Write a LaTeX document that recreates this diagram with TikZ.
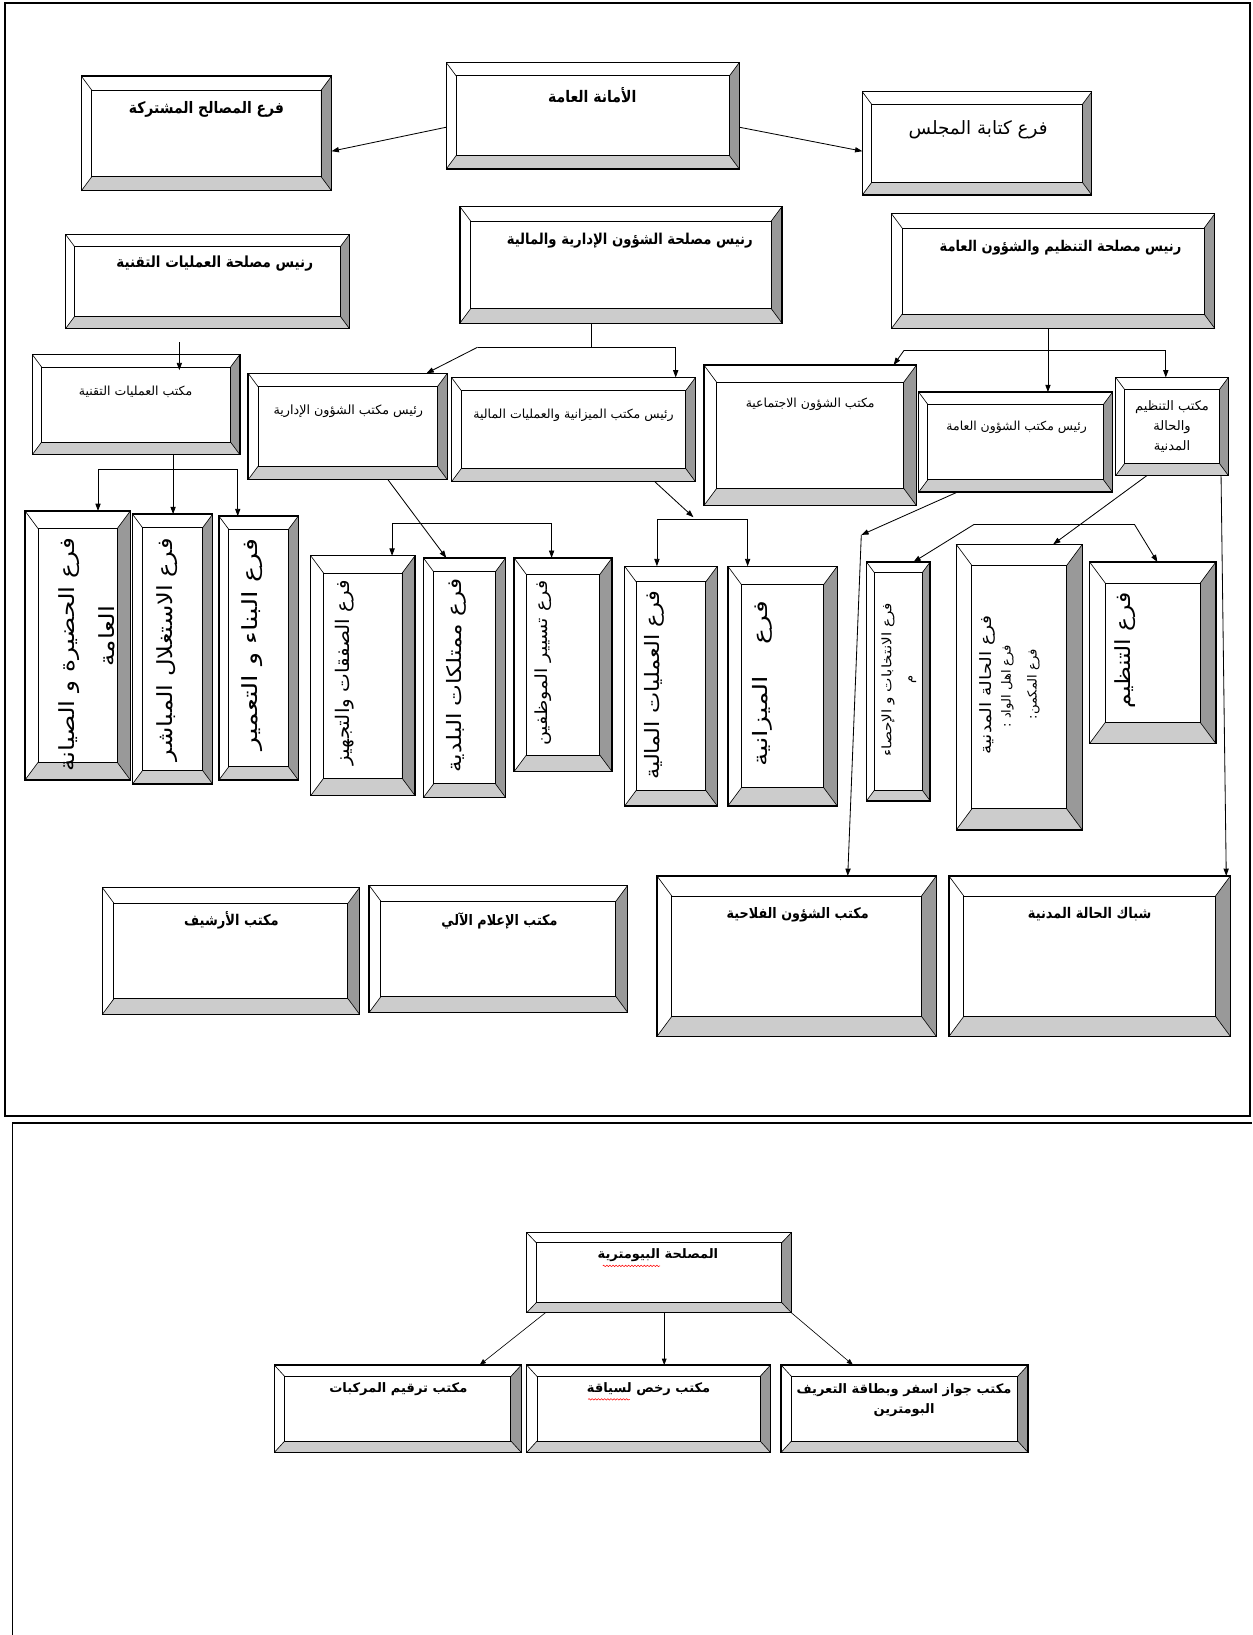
\documentclass[tikz,border=0pt]{standalone}
\usepackage{fontspec}
\newfontfamily\arabicfont[Script=Arabic]{DejaVu Sans}
\newfontfamily\arabicbold[Script=Arabic,FakeStretch=0.88]{DejaVu Sans Bold}
\TeXXeTstate=1
\usetikzlibrary{arrows.meta,calc,decorations.pathmorphing}
\newcommand{\ar}[1]{\beginR #1\endR}
\newcommand{\fs}[2]{\fontsize{#1}{#2}\selectfont}
\newcommand{\xs}[2]{\scalebox{#1}[1]{#2}}
\colorlet{bevR}{black!40}
\colorlet{bevB}{black!20}
\tikzset{
  arr/.style={-{Triangle[length=7pt,width=5pt]}, line width=0.8pt},
  arrthin/.style={-{Triangle[length=6pt,width=4.5pt]}, line width=0.6pt},
  ln/.style={line width=0.8pt},
  frame/.style={line width=1.6pt},
  txt/.style={inner sep=0pt, align=center, text=black},
  boxnode/.style={rectangle, inner sep=0pt, outer sep=0pt, draw=black, line width=1.3pt},
  innerline/.style={draw=black, line width=0.9pt},
  cornerline/.style={draw=black, line width=0.6pt},
}
\newcommand{\bboxdraw}[5]{%
  \fill[white] (#2,#3) rectangle (#4,#5);
  \fill[bevR] (#4,#3) -- (#4,#5) -- ({#4-\bx},{#5-\by}) -- ({#4-\bx},{#3+\by}) -- cycle;
  \fill[bevB] (#2,#5) -- (#4,#5) -- ({#4-\bx},{#5-\by}) -- ({#2+\bx},{#5-\by}) -- cycle;
  \draw[cornerline] (#2,#3) -- ({#2+\bx},{#3+\by}) (#4,#3) -- ({#4-\bx},{#3+\by})
        (#2,#5) -- ({#2+\bx},{#5-\by}) (#4,#5) -- ({#4-\bx},{#5-\by});
  \draw[innerline] ({#2+\bx},{#3+\by}) rectangle ({#4-\bx},{#5-\by});
  \node[boxnode, minimum width=\bw pt, minimum height=\bh pt] (#1) at ({(#2+#4)/2},{(#3+#5)/2}) {};
}
\newcommand{\bbox}[5]{%
  \pgfmathsetmacro\bw{#4-#2}%
  \pgfmathsetmacro\bh{#5-#3}%
  \pgfmathsetmacro\bx{0.125*min(\bw,\bh/1.35)}%
  \pgfmathsetmacro\by{1.35*\bx}%
  \bboxdraw{#1}{#2}{#3}{#4}{#5}}
\newcommand{\bboxxy}[7]{%
  \pgfmathsetmacro\bw{#4-#2}%
  \pgfmathsetmacro\bh{#5-#3}%
  \def\bx{#6}\def\by{#7}%
  \bboxdraw{#1}{#2}{#3}{#4}{#5}}
\begin{document}
\begin{tikzpicture}[x=1pt,y=-1pt]
\useasboundingbox (0,0) rectangle (1201,1568);
\fill[white] (0,0) rectangle (1201,1568);
% frames
\draw[frame] (5,3) rectangle (1199,1070);
\draw[frame] (12,1568) -- (12,1077) -- (1201,1077);

% ---- top row
\bbox{masalih}{78}{73}{318}{183}
\bbox{amana}{428}{60}{709}{162}
\bbox{kitaba}{827}{88}{1047}{187}
% ---- second row
\bbox{tech}{63}{225}{335}{315}
\bbox{admin}{441}{198}{750}{310}
\bbox{org}{855}{205}{1165}{315}
% ---- third row
\bbox{techoff}{31}{340}{230}{436}
\bbox{adminoff}{238}{358}{429}{460}
\bbox{budget}{433}{362}{667}{462}
\bbox{social}{675}{350}{879}{485}
\bbox{general}{881}{376}{1067}{472}
\bbox{orgoff}{1070}{362}{1178}{456}
% ---- vertical boxes
\bbox{vA}{24}{490}{125}{748}
\bbox{vB}{127}{493}{204}{752}
\bbox{vC}{210}{495}{286}{748}
\bbox{vD}{298}{533}{398}{763}
\bbox{vE}{406}{535}{485}{765}
\bbox{vF}{493}{535}{587}{740}
\bbox{vG}{599}{543}{688}{773}
\bbox{vH}{698}{543}{803}{773}
\bbox{vI}{831}{539}{892}{768}
\bbox{vJ}{917}{522}{1038}{796}
\bbox{vK}{1045}{539}{1166}{713}
% ---- fifth row
\bbox{archive}{98}{851}{345}{973}
\bbox{info}{354}{849}{602}{971}
\bbox{falahia}{630}{840}{898}{994}
\bbox{shubbak}{910}{840}{1180}{994}
% ---- lower section
\bboxxy{bio}{505}{1182}{759}{1259}{9.5}{10}
\bboxxy{veh}{263}{1309}{500}{1393}{10}{11}
\bboxxy{lic}{505}{1309}{739}{1393}{10}{11}
\bboxxy{pass}{749}{1309}{986}{1393}{10}{11}

% ---- texts
\node[txt, font=\arabicbold\fs{15.2}{19}] (masalih-t) at (198,105) {\ar{فرع المصالح المشتركة}};
\node[txt, font=\arabicbold\fs{15.3}{19}] (amana-t) at (568,91) {\ar{الأمانة العامة}};
\node[txt, font=\arabicfont\fs{17.6}{22}] (kitaba-t) at (938,124) {\ar{فرع كتابة المجلس}};
\node[txt, font=\arabicbold\fs{14.7}{18}] (tech-t) at (206,253) {\ar{رنيس مصلحة العمليات التقنية}};
\node[txt, font=\arabicbold\fs{14.4}{18}] (admin-t) at (604,231) {\ar{رنيس مصلحة الشؤون الإدارية والمالية}};
\node[txt, font=\arabicbold\fs{14.2}{18}] (org-t) at (1017,238) {\ar{رنيس مصلحة التنظيم والشؤون العامة}};
\node[txt, font=\arabicfont\fs{12}{14}] (techoff-t) at (130,376) {\ar{مكتب العمليات التقنية}};
\node[txt, font=\arabicfont\fs{12.2}{15}] (adminoff-t) at (334,394) {\ar{رئيس مكتب الشؤون الإدارية}};
\node[txt, font=\arabicfont\fs{12}{14}] (budget-t) at (550,398) {\ar{رئيس مكتب الميزانية والعمليات المالية}};
\node[txt, font=\arabicfont\fs{12}{15}] (social-t) at (777,388) {\ar{مكتب الشؤون الاجتماعية}};
\node[txt, font=\arabicfont\fs{11.9}{15}] (general-t) at (975,410) {\ar{رئيس مكتب الشؤون العامة}};
\node[txt, font=\arabicfont\fs{12.5}{19.5}] (orgoff-t) at (1124,409) {\ar{مكتب التنظيم}\\\ar{والحالة}\\\ar{المدنية}};

\node[txt, rotate=90, font=\arabicfont\fs{20}{24}] (vA-t1) at (66,628) {\xs{1.19}{\ar{فرع الحضيرة و الصيانة}}};
\node[txt, rotate=90, font=\arabicfont\fs{20}{24}] (vA-t2) at (102,610) {\xs{1.19}{\ar{العامة}}};
\node[txt, rotate=90, font=\arabicfont\fs{20}{24}] (vB-t) at (160,623) {\xs{1.16}{\ar{فرع الاستغلال المباشر}}};
\node[txt, rotate=90, font=\arabicfont\fs{20}{24}] (vC-t) at (242,618) {\xs{1.3}{\ar{فرع البناء و التعمير}}};
\node[txt, rotate=90, font=\arabicfont\fs{18}{22}] (vD-t) at (331,645) {\xs{1.06}{\ar{فرع الصفقات والتجهيز}}};
\node[txt, rotate=90, font=\arabicfont\fs{19}{23}] (vE-t) at (438,648) {\xs{1.17}{\ar{فرع ممتلكات البلدية}}};
\node[txt, rotate=90, font=\arabicfont\fs{16}{19}] (vF-t) at (521,636) {\xs{1.15}{\ar{فرع تسيير الموظفين}}};
\node[txt, rotate=90, font=\arabicfont\fs{19}{23}] (vG-t) at (628,657) {\xs{1.14}{\ar{فرع العمليات المالية}}};
\node[txt, rotate=90, font=\arabicfont\fs{19}{23}] (vH-t) at (731,656) {\xs{1.35}{\ar{فرع\hspace{22pt}الميزانية}}};
\node[txt, rotate=90, font=\arabicfont\fs{12.5}{21}] (vI-t) at (862,652) {\xs{1.17}{\ar{فرع الانتخابات و الإحصاء}}\\\ar{م}};
\node[txt, rotate=90, font=\arabicfont\fs{15}{17}] (vJ-t1) at (947,657) {\xs{1.2}{\ar{فرع الحالة المدنية}}};
\node[txt, rotate=90, font=\arabicfont\fs{12}{14}] (vJ-t2) at (966,658) {\xs{1.05}{\ar{فرع اهل الواد :}}};
\node[txt, rotate=90, font=\arabicfont\fs{12}{14}] (vJ-t3) at (991,656) {\xs{1.05}{\ar{فرع المكمن:}}};
\node[txt, rotate=90, font=\arabicfont\fs{20}{24}] (vK-t) at (1079,624) {\xs{1.13}{\ar{فرع التنظيم}}};

\node[txt, font=\arabicbold\fs{14.2}{17}] (archive-t) at (222,883) {\ar{مكتب الأرشيف}};
\node[txt, font=\arabicbold\fs{13.9}{17}] (info-t) at (479,883) {\ar{مكتب الإعلام الآلي}};
\node[txt, font=\arabicbold\fs{13.9}{17}] (falahia-t) at (765,877) {\ar{مكتب الشؤون الفلاحية}};
\node[txt, font=\arabicbold\fs{14.1}{17}] (shubbak-t) at (1045,877) {\ar{شباك الحالة المدنية}};

\node[txt, font=\arabicfont\bfseries\fs{12.5}{15}] (bio-t) at (631,1204) {\ar{المصلحة البيومترية}};
\node[txt, font=\arabicfont\bfseries\fs{12.5}{15}] (veh-t) at (382,1332) {\ar{مكتب ترقيم المركبات}};
\node[txt, font=\arabicfont\bfseries\fs{12.5}{15}] (lic-t) at (622,1332) {\ar{مكتب رخص لسياقة}};
\node[txt, font=\arabicfont\bfseries\fs{12.5}{19.5}] (pass-t) at (867,1343) {\ar{مكتب جواز اسفر وبطاقة التعريف}\\\ar{البومترين}};
% spell-check marks
\draw[red, line width=0.5pt, decorate, decoration={snake, segment length=3pt, amplitude=0.7pt}] (578,1214) -- (633,1214);
\draw[red, line width=0.5pt, decorate, decoration={snake, segment length=3pt, amplitude=0.7pt}] (564,1342) -- (604,1342);

% ---- connectors
\draw[arr] ([yshift=-11pt]amana.west) -- ([yshift=-17pt]masalih.east);
\draw[arr] ([yshift=-11pt]amana.east) -- ([yshift=-7.5pt]kitaba.west);

\coordinate (tt) at (172,328);
\draw[arr, shorten <=13pt] (tech.south -| tt) -- ($(techoff.north -| tt)+(0,15)$);

\coordinate (ja) at (567,333);
\coordinate (jaL) at (458,333);
\coordinate (jaR) at (648,333);
\coordinate (xA) at (409,0);
\draw[ln] (admin.south -| ja) -- (ja);
\draw[arr] (jaL) -- (adminoff.north -| xA);
\draw[arr] (jaL) -- (jaR) -- (budget.north -| jaR);

\coordinate (jo) at (1005,336);
\coordinate (joL) at (867,336);
\coordinate (joR) at (1118,336);
\coordinate (xS) at (857,0);
\draw[arr] (org.south -| jo) -- (general.north -| jo);
\draw[arr] (joL) -- (social.north -| xS);
\draw[arr] (joL) -- (joR) -- (orgoff.north -| joR);

\coordinate (jt) at (166,450);
\coordinate (jtL) at (94,450);
\coordinate (jtR) at (228,450);
\draw[arr] (techoff.south -| jt) -- (vB.north -| jt);
\draw[arr] (jt) -| (vA.north -| jtL);
\draw[arr] (jt) -| (vC.north -| jtR);

\coordinate (d1) at (372,0);
\coordinate (d2) at (428,0);
\draw[arr] (adminoff.south -| d1) -- (vE.north -| d2);
\coordinate (bL) at (376,502);
\coordinate (bR) at (529,502);
\draw[arr] (bR) -- (bL) -- (vD.north -| bL);
\draw[arr] (bR) -- (vF.north -| bR);

\coordinate (c0) at (628,0);
\coordinate (cT) at (665,496);
\coordinate (cL) at (630,498);
\coordinate (cR) at (717,498);
\draw[arr] (budget.south -| c0) -- (cT);
\draw[arr] (cR) -- (cL) -- (vG.north -| cL);
\draw[arr] (cR) -- (vH.north -| cR);

\coordinate (g0) at (918,0);
\coordinate (gT) at (826,513);
\coordinate (g1) at (813,0);
\draw[arr] (general.south -| g0) -- (gT);
\draw[arr] (gT) -- (falahia.north -| g1);

\coordinate (o0) at (1100,0);
\coordinate (o1) at (1010,0);
\draw[arr] (orgoff.south -| o0) -- (vJ.north -| o1);
\coordinate (kL) at (934,503);
\coordinate (kR) at (1088,503);
\coordinate (k2) at (876,0);
\coordinate (k3) at (1110,0);
\draw[arr] (kL) -- (vI.north -| k2);
\draw[arr] (kL) -- (kR) -- (vK.north -| k3);

\coordinate (s0) at (1171,0);
\coordinate (s1) at (1176,0);
\draw[arr] (orgoff.south -| s0) -- (shubbak.north -| s1);

\coordinate (l1) at (523,0);
\coordinate (l2) at (460,0);
\coordinate (m1) at (637,0);
\coordinate (r1) at (759,0);
\coordinate (r2) at (818,0);
\draw[arrthin] (bio.south -| l1) -- (veh.north -| l2);
\draw[arrthin] (bio.south -| m1) -- (lic.north -| m1);
\draw[arrthin] (bio.south -| r1) -- (pass.north -| r2);
\end{tikzpicture}
\end{document}
